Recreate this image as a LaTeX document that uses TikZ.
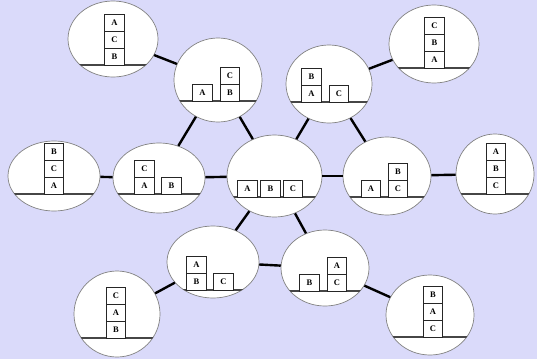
\documentclass[tikz,border=0pt]{standalone}
\usepackage{fontspec}
\setmainfont{Liberation Serif}
\usetikzlibrary{shapes.geometric}
\definecolor{bgcol}{RGB}{218,218,250}
\definecolor{rimcol}{RGB}{130,130,130}
\definecolor{groundcol}{RGB}{70,70,70}
\tikzset{
  state/.style={ellipse, draw=rimcol, fill=white, inner sep=0pt, line width=0.7pt},
  blk/.style={draw=black!85, line width=1pt, fill=white, minimum width=19.5pt, minimum height=17pt, inner sep=0pt, font=\fontsize{8.5}{9}\selectfont\bfseries},
  link/.style={line width=2.4pt, black},
  groundline/.style={draw=groundcol, line width=1.3pt}
}
\newcommand{\groundchord}[5]{%
  \begin{scope}
    \clip (#1,#2) ellipse [x radius=#3, y radius=#4];
    \draw[groundline] (#1-#3,#5) -- (#1+#3,#5);
  \end{scope}}
\begin{document}
\begin{tikzpicture}[x=1pt,y=-1pt]
\useasboundingbox (0,0) rectangle (537,359);
\fill[bgcol] (0,0) rectangle (537,359);

% ellipses
\node[state, minimum width=90pt, minimum height=76pt] (s1) at (113,39) {};
\node[state, minimum width=88pt, minimum height=84pt] (s2) at (218,80) {};
\node[state, minimum width=86pt, minimum height=78pt] (s3) at (329,84) {};
\node[state, minimum width=90pt, minimum height=78pt] (s4) at (434,44) {};
\node[state, minimum width=92pt, minimum height=70pt] (s5) at (54,176) {};
\node[state, minimum width=92pt, minimum height=70pt] (s6) at (159,178) {};
\node[state, minimum width=95pt, minimum height=82pt] (s7) at (274.5,176) {};
\node[state, minimum width=88pt, minimum height=78pt] (s8) at (387,176) {};
\node[state, minimum width=78pt, minimum height=80pt] (s9) at (495,174) {};
\node[state, minimum width=92pt, minimum height=72pt] (s10) at (213,262) {};
\node[state, minimum width=88pt, minimum height=76pt] (s11) at (325,268) {};
\node[state, minimum width=86pt, minimum height=86pt] (s12) at (117,314) {};
\node[state, minimum width=88pt, minimum height=80pt] (s13) at (430,315) {};

% ground lines
\groundchord{113}{39}{45}{38}{65}
\groundchord{218}{80}{44}{42}{101}
\groundchord{329}{84}{43}{39}{102}
\groundchord{434}{44}{45}{39}{68}
\groundchord{54}{176}{46}{35}{194}
\groundchord{159}{178}{46}{35}{194}
\groundchord{274.5}{176}{47.5}{41}{197}
\groundchord{387}{176}{44}{39}{197}
\groundchord{495}{174}{39}{40}{194}
\groundchord{213}{262}{46}{36}{290}
\groundchord{325}{268}{44}{38}{291}
\groundchord{117}{314}{43}{43}{338}
\groundchord{430}{315}{44}{40}{337}

% connectors
\draw[link] (s1) -- (s2);
\draw[link] (s2) -- (s6);
\draw[link] (s2) -- (s7);
\draw[link] (s3) -- (s7);
\draw[link] (s3) -- (s8);
\draw[link] (s3) -- (s4);
\draw[link] (s5) -- (s6);
\draw[link] (s6) -- (s7);
\draw[link] (s7) -- (s8);
\draw[link] (s8) -- (s9);
\draw[link] (s7) -- (s10);
\draw[link] (s7) -- (s11);
\draw[link] (s10) -- (s11);
\draw[link] (s10) -- (s12);
\draw[link] (s11) -- (s13);

% blocks
% s1: A / C / B
\node[blk] (s1b) at (114.5,56.5) {B};
\node[blk] (s1c) at (114.5,39.5) {C};
\node[blk] (s1a) at (114.5,22.5) {A};
% s2: A ; C on B
\node[blk] (s2a) at (202.5,92.5) {A};
\node[blk] (s2b) at (230,92.5) {B};
\node[blk] (s2c) at (230,75.5) {C};
% s3: B on A ; C
\node[blk] (s3a) at (311.5,93.5) {A};
\node[blk] (s3b) at (311.5,76.5) {B};
\node[blk] (s3c) at (339,93.5) {C};
% s4: C / B / A
\node[blk] (s4a) at (434.5,59.5) {A};
\node[blk] (s4b) at (434.5,42.5) {B};
\node[blk] (s4c) at (434.5,25.5) {C};
% s5: B / C / A
\node[blk] (s5a) at (54,185.5) {A};
\node[blk] (s5c) at (54,168.5) {C};
\node[blk] (s5b) at (54,151.5) {B};
% s6: C on A ; B
\node[blk] (s6a) at (144.5,185.5) {A};
\node[blk] (s6c) at (144.5,168.5) {C};
\node[blk] (s6b) at (171.5,185.5) {B};
% s7: A B C
\node[blk] (s7a) at (247.5,188.5) {A};
\node[blk] (s7b) at (270.5,188.5) {B};
\node[blk] (s7c) at (293,188.5) {C};
% s8: A ; B on C
\node[blk] (s8a) at (371,188.5) {A};
\node[blk] (s8c) at (398,188.5) {C};
\node[blk] (s8b) at (398,171.5) {B};
% s9: A / B / C
\node[blk] (s9c) at (496,185.5) {C};
\node[blk] (s9b) at (496,168.5) {B};
\node[blk] (s9a) at (496,151.5) {A};
% s10: A on B ; C
\node[blk] (s10b) at (196.5,281.5) {B};
\node[blk] (s10a) at (196.5,264.5) {A};
\node[blk] (s10c) at (223.5,281.5) {C};
% s11: B ; A on C
\node[blk] (s11b) at (309.5,282.5) {B};
\node[blk] (s11c) at (337,282.5) {C};
\node[blk] (s11a) at (337,265.5) {A};
% s12: C / A / B
\node[blk] (s12b) at (116,329.5) {B};
\node[blk] (s12a) at (116,312.5) {A};
\node[blk] (s12c) at (116,295.5) {C};
% s13: B / A / C
\node[blk] (s13c) at (433,328.5) {C};
\node[blk] (s13a) at (433,311.5) {A};
\node[blk] (s13b) at (433,294.5) {B};
\end{tikzpicture}
\end{document}
